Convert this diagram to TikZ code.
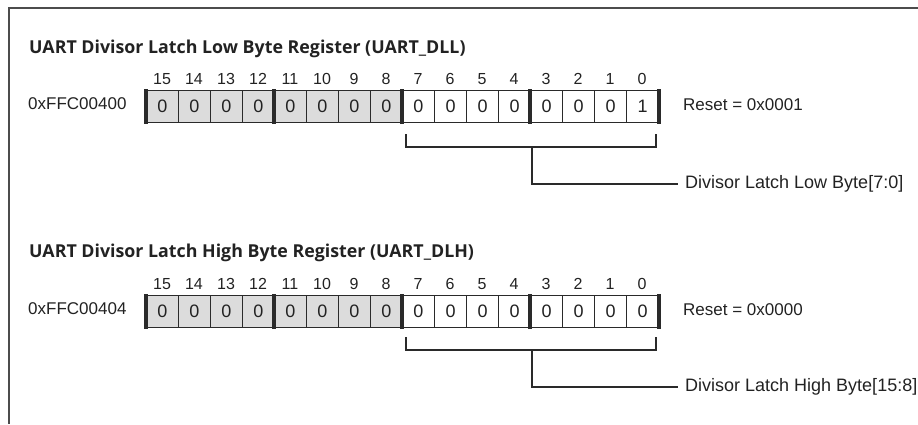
\documentclass[tikz,border=0pt]{standalone}
\usepackage{fontspec}
\setmainfont{Liberation Sans}
\newfontfamily\titlefont{Open Sans}
\definecolor{ink}{HTML}{222222}
\definecolor{rule}{HTML}{2A2A2A}
\definecolor{reserved}{HTML}{DCDCDC}
\begin{document}
\begin{tikzpicture}[x=1pt,y=-1pt,
  frame/.style={draw=black!70, line width=2pt},
  bitcell/.style={draw=rule, line width=1pt, minimum width=32pt, minimum height=32pt,
    inner sep=0pt, anchor=north west, text=ink, font=\fontsize{18}{18}\selectfont},
  hibit/.style={bitcell, fill=reserved},
  lobit/.style={bitcell, fill=white},
  bitnum/.style={anchor=base, inner sep=0pt, text=ink, font=\fontsize{16}{16}\selectfont},
  nibble/.style={draw=rule, line width=4.5pt},
  regtitle/.style={anchor=base west, inner sep=0pt, text=ink, font=\titlefont\bfseries\fontsize{17.8}{17.8}\selectfont},
  label/.style={anchor=base west, inner sep=0pt, text=ink, font=\fontsize{17}{17}\selectfont},
  field/.style={anchor=west, inner sep=0pt, text=ink, font=\fontsize{18}{18}\selectfont},
  bracket/.style={draw=rule, line width=1.2pt}
]
\useasboundingbox (0,0) rectangle (918,424);

% outer frame (top and left rules)
\draw[frame] (918,8) -- (9,8) -- (9,424);

% register titles, addresses and reset values
\node[regtitle] (t0) at (29,53)  {UART Divisor Latch Low Byte Register (UART\_DLL)};
\node[regtitle] (t1) at (29,257) {UART Divisor Latch High Byte Register (UART\_DLH)};
\node[label] (a0) at (28,109) {0xFFC00400};
\node[label] (a1) at (28,314) {0xFFC00404};
\node[label] (s0) at (683,110) {Reset = 0x0001};
\node[label] (s1) at (683,315) {Reset = 0x0000};

% bit cells and bit numbers
\foreach \r/\yo in {0/0,1/205}{
  \foreach \b in {0,...,15}{
    \pgfmathsetmacro\xl{146+(15-\b)*32}
    \pgfmathtruncatemacro\bv{(\r==0 && \b==0) ? 1 : 0}
    \ifnum\b>7 \def\cellsty{hibit}\else\def\cellsty{lobit}\fi
    \node[\cellsty] (r\r c\b) at (\xl,90+\yo) {\bv};
    \node[bitnum] (r\r n\b) at (\xl+16,84+\yo) {\b};
  }
  % heavy rules at nibble boundaries
  \foreach \b in {15,11,7,3}{
    \draw[nibble] ([yshift=1pt]r\r c\b.north west) -- ([yshift=-1pt]r\r c\b.south west);
  }
  \draw[nibble] ([yshift=1pt]r\r c0.north east) -- ([yshift=-1pt]r\r c0.south east);
}

% field brackets
\coordinate (r0bl) at (406,134);
\coordinate (r0br) at (656,134);
\coordinate (r0m)  at (532,147);
\node[field] (f0) at (685,184) {Divisor Latch Low Byte[7:0]};
\draw[bracket] (r0bl) |- (r0m) -| (r0br);
\draw[bracket] (r0m) |- ([xshift=-7pt]f0.west);

\coordinate (r1bl) at (406,337);
\coordinate (r1br) at (656,337);
\coordinate (r1m)  at (532,350);
\node[field] (f1) at (685,387) {Divisor Latch High Byte[15:8]};
\draw[bracket] (r1bl) |- (r1m) -| (r1br);
\draw[bracket] (r1m) |- ([xshift=-7pt]f1.west);
\end{tikzpicture}
\end{document}
